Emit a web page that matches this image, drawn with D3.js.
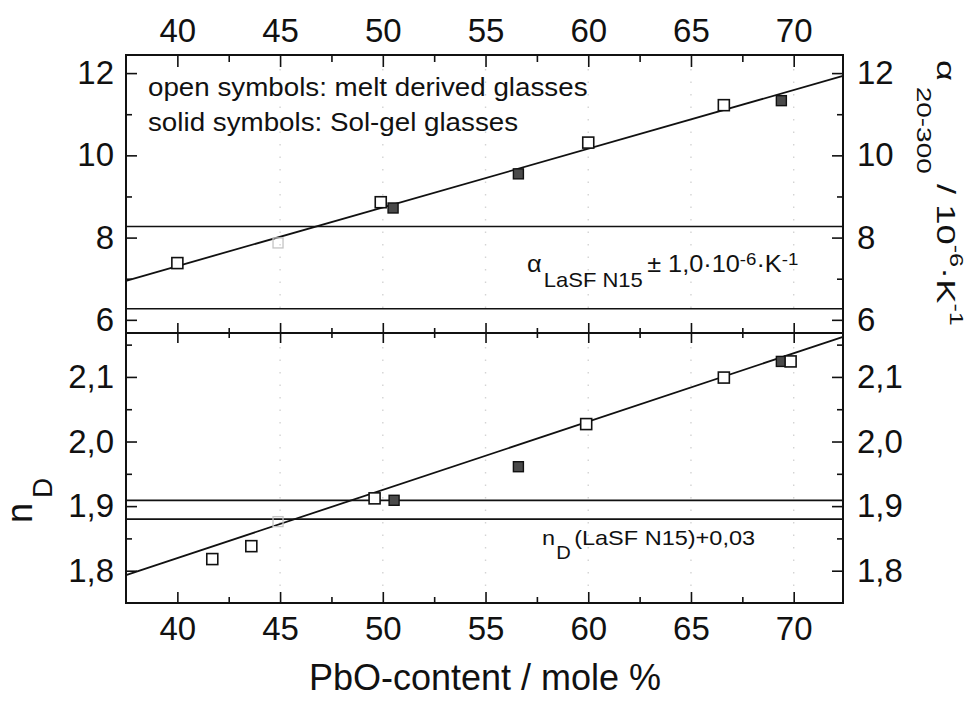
<!DOCTYPE html>
<html lang="en">
<head>
    <meta charset="UTF-8">
    <title>PbO-content vs. expansion coefficient and refractive index</title>
    <script src="https://cdn.jsdelivr.net/npm/d3@7/dist/d3.min.js"></script>
    <style>
        html, body { margin: 0; padding: 0; background: #fff; }
        svg text { font-family: "Liberation Sans", Arial, Helvetica, sans-serif; fill: #111; }
        .axis path.domain { display: none; }
        .axis line { stroke: #111; stroke-width: 1.6; }
    </style>
</head>
<body>
    <div id="chart"></div>

    <script>
        // =============================
        // 1. Data
        // =============================
        const xMajor = [40, 45, 50, 55, 60, 65, 70];
        const xMinor = [42.5, 47.5, 52.5, 57.5, 62.5, 67.5];

        const alphaMajor = [6, 8, 10, 12];
        const alphaMinor = [7, 9, 11];
        const alphaTickLabels = ["6", "8", "10", "12"];

        const nMajor = [1.8, 1.9, 2.0, 2.1];
        const nMinor = [1.85, 1.95, 2.05, 2.15];
        const nTickLabels = ["1,8", "1,9", "2,0", "2,1"];

        // upper panel: alpha 20-300 / 10^-6 K^-1
        const alphaOpenX = [40, 49.9, 60, 66.6];
        const alphaOpenY = [7.38, 8.86, 10.31, 11.22];
        const alphaSolidX = [50.5, 56.6, 69.4];
        const alphaSolidY = [8.72, 9.55, 11.33];
        const alphaFaintX = [44.9];
        const alphaFaintY = [7.87];
        const alphaFitX = [37.5, 72.4];
        const alphaFitY = [6.95, 11.93];
        const alphaLimits = [8.27, 6.27];

        // lower panel: n_D
        const nOpenX = [41.7, 43.6, 49.6, 59.9, 66.6, 69.85];
        const nOpenY = [1.818, 1.838, 1.912, 2.027, 2.099, 2.124];
        const nSolidX = [50.55, 56.6, 69.4];
        const nSolidY = [1.909, 1.961, 2.124];
        const nFaintX = [44.9];
        const nFaintY = [1.876];
        const nFitX = [37.5, 72.4];
        const nFitY = [1.793, 2.162];
        const nLimits = [1.909, 1.880];

        // =============================
        // 2. SVG Setup
        // =============================
        const width = 967, height = 701;
        const frame = { left: 126, right: 843, top: 55, mid: 333, bottom: 603 };

        const svg = d3.select("#chart").append("svg")
            .attr("width", width)
            .attr("height", height);

        const x = d3.scaleLinear().domain([37.5, 72.4]).range([frame.left, frame.right]);
        const yA = d3.scaleLinear().domain([5.68, 12.44]).range([frame.mid, frame.top]);
        const yN = d3.scaleLinear().domain([1.75, 2.168]).range([frame.bottom, frame.mid]);

        const zip = (xs, ys) => xs.map((v, i) => [v, ys[i]]);

        // faint dotted grid from the scan
        const grid = svg.append("g");
        [[frame.top, frame.mid], [frame.mid, frame.bottom]].forEach(([y0, y1]) => {
            grid.selectAll(null)
                .data(xMajor.slice(1))
                .enter().append("line")
                .attr("x1", d => x(d)).attr("x2", d => x(d))
                .attr("y1", y0 + 14).attr("y2", y1 - 14)
                .attr("stroke", "#d4d4d4")
                .attr("stroke-width", 1.4)
                .attr("stroke-dasharray", "1.5,11");
        });

        // =============================
        // 3. Axes and ticks
        // =============================
        function ticks(axis, tx, ty, size) {
            return svg.append("g")
                .attr("class", "axis")
                .attr("transform", `translate(${tx},${ty})`)
                .call(axis.tickSize(size));
        }
        const noLabel = () => "";

        // top edge (with labels)
        ticks(d3.axisTop(x).tickValues(xMajor).tickFormat(d3.format("d")).tickPadding(13), 0, frame.top, -12);
        ticks(d3.axisTop(x).tickValues(xMinor).tickFormat(noLabel), 0, frame.top, -7);
        // bottom edge (with labels)
        ticks(d3.axisBottom(x).tickValues(xMajor).tickFormat(d3.format("d")).tickPadding(14), 0, frame.bottom, -11);
        ticks(d3.axisBottom(x).tickValues(xMinor).tickFormat(noLabel), 0, frame.bottom, -6);
        // divider: ticks crossing both ways
        ticks(d3.axisTop(x).tickValues(xMajor).tickFormat(noLabel), 0, frame.mid, 10);
        ticks(d3.axisBottom(x).tickValues(xMajor).tickFormat(noLabel), 0, frame.mid, 10);
        ticks(d3.axisTop(x).tickValues(xMinor).tickFormat(noLabel), 0, frame.mid, 5);
        ticks(d3.axisBottom(x).tickValues(xMinor).tickFormat(noLabel), 0, frame.mid, 5);

        // y ticks, both panels, both sides
        [[yA, alphaMajor, alphaMinor, alphaTickLabels], [yN, nMajor, nMinor, nTickLabels]].forEach(([ys, maj, min, labs]) => {
            const fmt = d => labs[maj.indexOf(d)];
            ticks(d3.axisLeft(ys).tickValues(maj).tickFormat(fmt).tickPadding(12), frame.left, 0, -11);
            ticks(d3.axisLeft(ys).tickValues(min).tickFormat(noLabel), frame.left, 0, -6);
            ticks(d3.axisRight(ys).tickValues(maj).tickFormat(fmt).tickPadding(14), frame.right, 0, -11);
            ticks(d3.axisRight(ys).tickValues(min).tickFormat(noLabel), frame.right, 0, -6);
        });

        svg.selectAll(".axis text")
            .style("font-size", "33px");

        // =============================
        // 4. Reference lines, fits, symbols
        // =============================
        const plot = svg.append("g");

        function hLines(values, ys) {
            plot.selectAll(null)
                .data(values)
                .enter().append("line")
                .attr("x1", frame.left).attr("x2", frame.right)
                .attr("y1", d => ys(d)).attr("y2", d => ys(d))
                .attr("stroke", "#111").attr("stroke-width", 1.7);
        }
        hLines(alphaLimits, yA);
        hLines(nLimits, yN);

        const fitLine = ys => d3.line().x(d => x(d[0])).y(d => ys(d[1]));
        plot.append("path").datum(zip(alphaFitX, alphaFitY))
            .attr("d", fitLine(yA)).attr("fill", "none").attr("stroke", "#111").attr("stroke-width", 1.8);
        plot.append("path").datum(zip(nFitX, nFitY))
            .attr("d", fitLine(yN)).attr("fill", "none").attr("stroke", "#111").attr("stroke-width", 1.8);

        function squares(pts, ys, size, fill, stroke, sw) {
            plot.selectAll(null)
                .data(pts)
                .enter().append("rect")
                .attr("x", d => x(d[0]) - size / 2)
                .attr("y", d => ys(d[1]) - size / 2)
                .attr("width", size).attr("height", size)
                .attr("fill", fill)
                .attr("stroke", stroke)
                .attr("stroke-width", sw);
        }
        squares(zip(alphaFaintX, alphaFaintY), yA, 10, "none", "#c4c4c4", 1.3);
        squares(zip(nFaintX, nFaintY), yN, 10, "none", "#c4c4c4", 1.3);
        squares(zip(alphaSolidX, alphaSolidY), yA, 10, "#4a4a4a", "#111", 1.4);
        squares(zip(nSolidX, nSolidY), yN, 10, "#4a4a4a", "#111", 1.4);
        squares(zip(alphaOpenX, alphaOpenY), yA, 11, "#fff", "#111", 1.6);
        squares(zip(nOpenX, nOpenY), yN, 11, "#fff", "#111", 1.6);

        // frame
        svg.append("rect")
            .attr("x", frame.left).attr("y", frame.top)
            .attr("width", frame.right - frame.left).attr("height", frame.bottom - frame.top)
            .attr("fill", "none").attr("stroke", "#111").attr("stroke-width", 2);
        svg.append("line")
            .attr("x1", frame.left).attr("x2", frame.right)
            .attr("y1", frame.mid).attr("y2", frame.mid)
            .attr("stroke", "#111").attr("stroke-width", 2);

        // =============================
        // 5. Texts
        // =============================
        const legend = [
            ["open symbols: melt derived glasses", 96],
            ["solid symbols: Sol-gel glasses", 131]
        ];
        legend.forEach(([txt, yy]) => {
            svg.append("text")
                .attr("transform", `translate(148,${yy}) scale(1.11,1)`)
                .style("font-size", "25px")
                .text(txt);
        });

        // alpha LaSF N15 +- 1,0 annotation
        const aNote = svg.append("text")
            .attr("transform", "translate(527,272) scale(1.1,1)")
            .style("font-size", "23px");
        aNote.append("tspan").text("α");
        aNote.append("tspan").attr("dy", 15).attr("dx", 2).style("font-size", "20px").text("LaSF N15");
        aNote.append("tspan").attr("dy", -15).attr("dx", 4).text("± 1,0·10");
        aNote.append("tspan").attr("dy", -7).style("font-size", "17px").text("-6");
        aNote.append("tspan").attr("dy", 7).text("·K");
        aNote.append("tspan").attr("dy", -7).style("font-size", "17px").text("-1");

        // n_D (LaSF N15)+0,03 annotation
        const nNote = svg.append("text")
            .attr("transform", "translate(542,545) scale(1.12,1)")
            .style("font-size", "21px");
        nNote.append("tspan").text("n");
        nNote.append("tspan").attr("dy", 14).attr("dx", 1).style("font-size", "18px").text("D");
        nNote.append("tspan").attr("dy", -14).attr("dx", 3).text("(LaSF N15)+0,03");

        // x title
        svg.append("text")
            .attr("x", 485).attr("y", 690)
            .attr("text-anchor", "middle")
            .style("font-size", "36px")
            .text("PbO-content / mole %");

        // left title n_D
        const nTitle = svg.append("text")
            .attr("transform", "translate(32,523) rotate(-90)")
            .style("font-size", "36px");
        nTitle.append("tspan").text("n");
        nTitle.append("tspan").attr("dy", 20).attr("dx", 5).style("font-size", "28px").text("D");

        // right title alpha 20-300 / 10-6 K-1
        const aTitle = svg.append("text")
            .attr("transform", "translate(937,60) rotate(90) scale(1.4,1)")
            .style("font-size", "26px");
        aTitle.append("tspan").text("α");
        aTitle.append("tspan").attr("dy", 20).attr("dx", 4).style("font-size", "20px").text("20-300");
        aTitle.append("tspan").attr("dy", -20).text(" / 10");
        aTitle.append("tspan").attr("dy", -13).style("font-size", "18px").text("-6");
        aTitle.append("tspan").attr("dy", 13).text("·K");
        aTitle.append("tspan").attr("dy", -13).style("font-size", "18px").text("-1");
    </script>
</body>
</html>
